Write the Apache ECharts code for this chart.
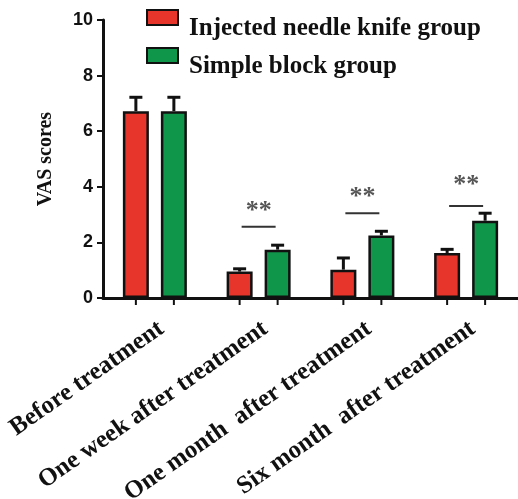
<!DOCTYPE html>
<html>
<head>
<meta charset="utf-8">
<script src="https://cdn.jsdelivr.net/npm/echarts@6/dist/echarts.min.js"></script>
<style>html,body{margin:0;padding:0;background:#fff;}#c{width:518px;height:499px;}</style>
</head>
<body>
<div id="c"></div>
<script>
const categories = ['Before treatment', 'One week after treatment', 'One month  after treatment', 'Six month  after treatment'];
const seriesNames = ['Injected needle knife group', 'Simple block group'];
const needleMean = [6.72, 0.95, 1.02, 1.62];
const needleErr = [0.50, 0.10, 0.42, 0.13];
const blockMean = [6.72, 1.74, 2.25, 2.78];
const blockErr = [0.50, 0.16, 0.15, 0.27];
const sigLine = [null, 2.56, 3.05, 3.31];
const sigStar = [null, 3.13, 3.61, 4.06];
const sigText = [null, '**', '**', '**'];
const yTicks = [0, 2, 4, 6, 8, 10];

const RED = '#e8352b', GREEN = '#10964a', EDGE = '#111';
const BAR_W = 26, BAR_GAP_PX = 12;
const serif = '"Liberation Serif", "Times New Roman", serif';
const sans = '"Liberation Sans", Arial, sans-serif';

const errData = [];
needleMean.forEach((m, i) => errData.push([i, m, needleErr[i], -1]));
blockMean.forEach((m, i) => errData.push([i, m, blockErr[i], 1]));
const sigData = [];
sigLine.forEach((v, i) => { if (v !== null) sigData.push([i, v, sigStar[i], sigText[i]]); });

const chart = echarts.init(document.getElementById('c'), null, {renderer: 'canvas'});
chart.setOption({
  animation: false,
  backgroundColor: '#fff',
  grid: {left: 103, right: 0, top: 20, bottom: 201, containLabel: false, outerBoundsMode: 'none'},
  legend: {
    orient: 'vertical', left: 146, top: -6, padding: 0,
    itemWidth: 31, itemHeight: 15, itemGap: -9, icon: 'rect',
    data: seriesNames,
    formatter: function (name) { return '\n' + name; },
    textStyle: {fontFamily: serif, fontWeight: 'bold', fontSize: 25, color: '#111', lineHeight: 22, padding: [0, 0, 0, 6]}
  },
  xAxis: {
    type: 'category', data: categories,
    axisLine: {lineStyle: {color: EDGE, width: 3}},
    axisTick: {show: false},
    axisLabel: {interval: 0, rotate: 35, margin: 33, padding: [0, -8, 0, 0], fontFamily: serif, fontWeight: 'bold', fontSize: 25, color: '#111'}
  },
  yAxis: {
    type: 'value', min: yTicks[0], max: yTicks[yTicks.length - 1], interval: 2,
    name: 'VAS scores', nameLocation: 'middle', nameGap: 47,
    nameTextStyle: {fontFamily: serif, fontWeight: 'bold', fontSize: 20, color: '#111'},
    axisLine: {show: true, lineStyle: {color: EDGE, width: 3}},
    axisTick: {show: true, length: 6, lineStyle: {color: EDGE, width: 2}},
    splitLine: {show: false},
    axisLabel: {margin: 10, fontFamily: sans, fontWeight: 'bold', fontSize: 18, color: '#111'}
  },
  series: [
    {name: seriesNames[0], type: 'bar', data: needleMean, barWidth: BAR_W, barGap: (BAR_GAP_PX / BAR_W * 100) + '%',
     itemStyle: {color: RED, borderColor: EDGE, borderWidth: 2.5}},
    {name: seriesNames[1], type: 'bar', data: blockMean, barWidth: BAR_W,
     itemStyle: {color: GREEN, borderColor: EDGE, borderWidth: 2.5}},
    {type: 'custom', data: errData, clip: false, z: 5, silent: true,
     renderItem: function (params, api) {
       const i = api.value(0), m = api.value(1), e = api.value(2), side = api.value(3);
       const off = side * (BAR_W + BAR_GAP_PX) / 2;
       const top = api.coord([i, m]);
       const cap = api.coord([i, m + e]);
       const base = api.coord([i, 0]);
       const x = top[0] + off;
       const st = {stroke: EDGE, lineWidth: 3};
       return {type: 'group', children: [
         {type: 'line', shape: {x1: x, y1: top[1], x2: x, y2: cap[1]}, style: st},
         {type: 'line', shape: {x1: x - 6.5, y1: cap[1], x2: x + 6.5, y2: cap[1]}, style: st},
         {type: 'line', shape: {x1: x, y1: base[1], x2: x, y2: base[1] + 7}, style: {stroke: EDGE, lineWidth: 2}}
       ]};
     }},
    {type: 'custom', data: sigData, clip: false, z: 5, silent: true,
     renderItem: function (params, api) {
       const i = api.value(0);
       const l = api.coord([i, api.value(1)]);
       const s = api.coord([i, api.value(2)]);
       return {type: 'group', children: [
         {type: 'line', shape: {x1: l[0] - 17, y1: l[1], x2: l[0] + 17, y2: l[1]}, style: {stroke: '#333', lineWidth: 2}},
         {type: 'text', x: s[0], y: s[1], style: {text: sigText[i], fill: '#555', font: 'bold 26px ' + serif, textAlign: 'center', textVerticalAlign: 'middle'}}
       ]};
     }}
  ]
});
</script>
</body>
</html>
